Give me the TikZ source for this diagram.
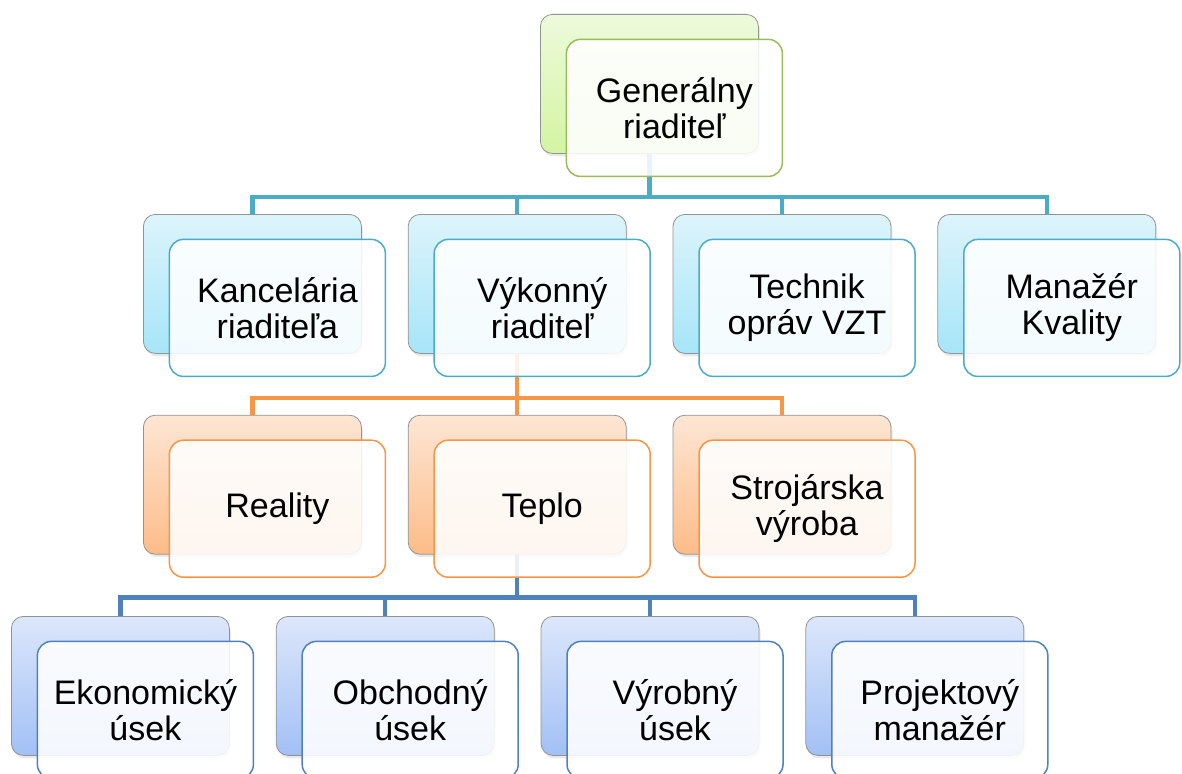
\documentclass[tikz,border=0pt]{standalone}
\usepackage{fontspec}
\setmainfont{Liberation Sans}
\usepackage{xcolor}
\usetikzlibrary{positioning, shadows}
\definecolor{gengreen}{HTML}{9BBB59}
\definecolor{gentop}{HTML}{EDFADB}
\definecolor{genbot}{HTML}{D4F4A2}
\definecolor{cyanline}{HTML}{4BACC6}
\definecolor{cyantop}{HTML}{DDF4FB}
\definecolor{cyanbot}{HTML}{A6E5F8}
\definecolor{orangeline}{HTML}{F79646}
\definecolor{orangetop}{HTML}{FDE6D4}
\definecolor{orangebot}{HTML}{FDBC88}
\definecolor{blueline}{HTML}{4F81BD}
\definecolor{bluetop}{HTML}{DCE7FB}
\definecolor{bluebot}{HTML}{A2C0F5}
\tikzset{
    backbox/.style={rectangle, rounded corners=12pt, draw=gray!85, line width=0.8pt,
        minimum width=218pt, minimum height=139pt, inner sep=0pt,
        drop shadow={shadow xshift=1.5pt, shadow yshift=-3pt, opacity=0.18}},
    frontbox/.style={rectangle, rounded corners=14pt, line width=1.5pt, fill=white,
        fill opacity=0.88, text opacity=1, minimum width=216pt, minimum height=137pt,
        inner sep=0pt, align=center, font=\fontsize{34}{36}\selectfont},
    link/.style={line width=4.5pt, line join=miter}
}

\begin{document}
\begin{tikzpicture}[x=1pt, y=-1pt]
        \useasboundingbox (0,0) rectangle (1182,773);

        % Zadne bloky
        \node[backbox, top color=gentop, bottom color=genbot, anchor=north west] (gen) at (540,14) {};

        \node[backbox, top color=cyantop, bottom color=cyanbot, anchor=north west] (kanc) at (143,214) {};
        \node[backbox, top color=cyantop, bottom color=cyanbot, right=46pt of kanc] (vyk) {};
        \node[backbox, top color=cyantop, bottom color=cyanbot, right=46pt of vyk] (tech) {};
        \node[backbox, top color=cyantop, bottom color=cyanbot, right=46pt of tech] (man) {};

        \node[backbox, top color=orangetop, bottom color=orangebot, below=61pt of kanc] (real) {};
        \node[backbox, top color=orangetop, bottom color=orangebot, right=46pt of real] (teplo) {};
        \node[backbox, top color=orangetop, bottom color=orangebot, right=46pt of teplo] (stroj) {};

        \node[backbox, top color=bluetop, bottom color=bluebot, anchor=north west] (ekon) at (11,616) {};
        \node[backbox, top color=bluetop, bottom color=bluebot, right=46pt of ekon] (obch) {};
        \node[backbox, top color=bluetop, bottom color=bluebot, right=46pt of obch] (vyrob) {};
        \node[backbox, top color=bluetop, bottom color=bluebot, right=46pt of vyrob] (proj) {};

        % Spojenia
        \draw[link, cyanline] (gen.south) -- ++(0,43) -| (kanc.north);
        \draw[link, cyanline] (gen.south) -- ++(0,43) -| (vyk.north);
        \draw[link, cyanline] (gen.south) -- ++(0,43) -| (tech.north);
        \draw[link, cyanline] (gen.south) -- ++(0,43) -| (man.north);

        \draw[link, orangeline] (vyk.south) -- ++(0,44) -| (real.north);
        \draw[link, orangeline] (vyk.south) -- ++(0,44) -| (teplo.north);
        \draw[link, orangeline] (vyk.south) -- ++(0,44) -| (stroj.north);

        \draw[link, blueline] (teplo.south) -- ++(0,43) -| (ekon.north);
        \draw[link, blueline] (teplo.south) -- ++(0,43) -| (obch.north);
        \draw[link, blueline] (teplo.south) -- ++(0,43) -| (vyrob.north);
        \draw[link, blueline] (teplo.south) -- ++(0,43) -| (proj.north);

        % Predne bloky s textom
        \node[frontbox, draw=gengreen] (genT) at ([shift={(25,24)}]gen.center) {Generálny\\riaditeľ};

        \node[frontbox, draw=cyanline] (kancT) at ([shift={(25,24)}]kanc.center) {Kancelária\\riaditeľa};
        \node[frontbox, draw=cyanline] (vykT) at ([shift={(25,24)}]vyk.center) {Výkonný\\riaditeľ};
        \node[frontbox, draw=cyanline] (techT) at ([shift={(25,24)}]tech.center) {Technik\\opráv VZT};
        \node[frontbox, draw=cyanline] (manT) at ([shift={(25,24)}]man.center) {Manažér\\Kvality};

        \node[frontbox, draw=orangeline] (realT) at ([shift={(25,24)}]real.center) {Reality};
        \node[frontbox, draw=orangeline] (teploT) at ([shift={(25,24)}]teplo.center) {Teplo};
        \node[frontbox, draw=orangeline] (strojT) at ([shift={(25,24)}]stroj.center) {Strojárska\\výroba};

        \node[frontbox, draw=blueline] (ekonT) at ([shift={(25,24)}]ekon.center) {Ekonomický\\úsek};
        \node[frontbox, draw=blueline] (obchT) at ([shift={(25,24)}]obch.center) {Obchodný\\úsek};
        \node[frontbox, draw=blueline] (vyrobT) at ([shift={(25,24)}]vyrob.center) {Výrobný\\úsek};
        \node[frontbox, draw=blueline] (projT) at ([shift={(25,24)}]proj.center) {Projektový\\manažér};
    \end{tikzpicture}
\end{document}
